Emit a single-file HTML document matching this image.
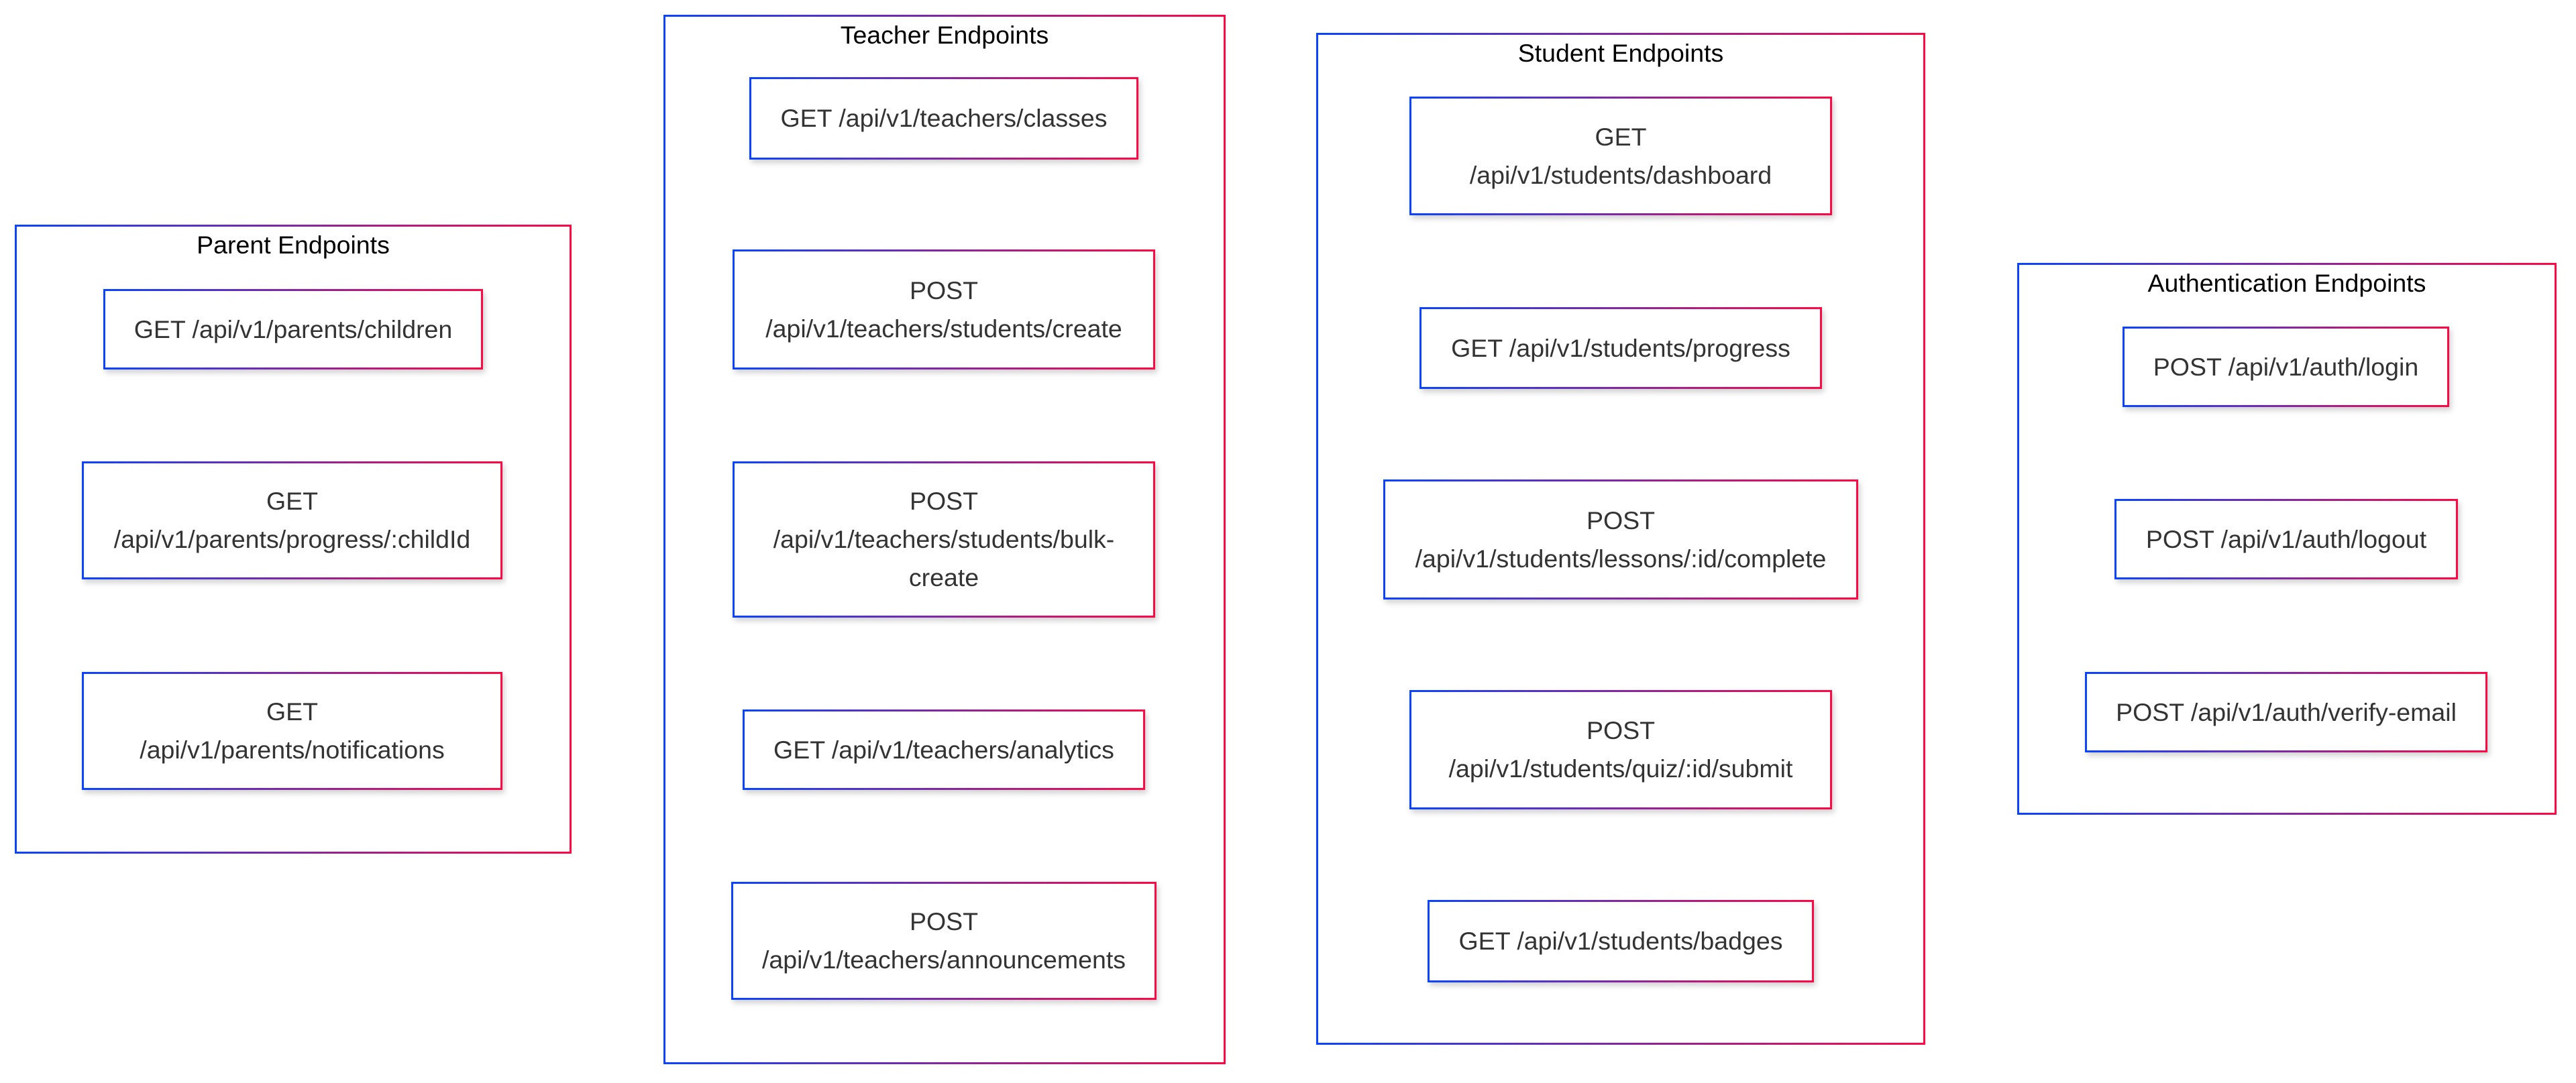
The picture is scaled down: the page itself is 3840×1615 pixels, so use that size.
<!DOCTYPE html>
<html><head><meta charset="utf-8"><style>
body{margin:0;width:3840px;height:1615px;background:#fff;position:relative;overflow:hidden;font-family:"Liberation Sans",Arial,sans-serif}
.g{position:absolute;box-sizing:border-box;border:3px solid;border-image:linear-gradient(to right,#0a44ff,#ff0844) 1;}
.c .t{position:absolute;left:0;right:0;top:6px;text-align:center;font-size:37.5px;color:#000}
.n{display:flex;align-items:center;justify-content:center;text-align:center;font-size:37.5px;line-height:57px;color:#333;box-shadow:3px 5px 8px rgba(0,0,0,.18);background:#fff;padding:0 14px}
</style></head><body>
<div class="g c" style="left:22px;top:335px;width:830px;height:938px"><div class="t">Parent Endpoints</div></div>
<div class="g n" style="left:154px;top:431px;width:566px;height:120px">GET /api/v1/parents/children</div>
<div class="g n" style="left:122px;top:688px;width:627px;height:176px">GET<br>/api/v1/parents/progress/:childId</div>
<div class="g n" style="left:122px;top:1002px;width:627px;height:176px">GET<br>/api/v1/parents/notifications</div>

<div class="g c" style="left:989px;top:22px;width:838px;height:1565px"><div class="t">Teacher Endpoints</div></div>
<div class="g n" style="left:1117px;top:115px;width:580px;height:123px">GET /api/v1/teachers/classes</div>
<div class="g n" style="left:1092px;top:372px;width:630px;height:179px">POST<br>/api/v1/teachers/students/create</div>
<div class="g n" style="left:1092px;top:688px;width:630px;height:233px">POST<br>/api/v1/teachers/students/bulk-<br>create</div>
<div class="g n" style="left:1107px;top:1058px;width:600px;height:120px">GET /api/v1/teachers/analytics</div>
<div class="g n" style="left:1090px;top:1315px;width:634px;height:176px">POST<br>/api/v1/teachers/announcements</div>

<div class="g c" style="left:1962px;top:49px;width:908px;height:1509px"><div class="t">Student Endpoints</div></div>
<div class="g n" style="left:2101px;top:144px;width:630px;height:177px">GET<br>/api/v1/students/dashboard</div>
<div class="g n" style="left:2116px;top:458px;width:600px;height:122px">GET /api/v1/students/progress</div>
<div class="g n" style="left:2062px;top:715px;width:708px;height:179px">POST<br>/api/v1/students/lessons/:id/complete</div>
<div class="g n" style="left:2101px;top:1029px;width:630px;height:178px">POST<br>/api/v1/students/quiz/:id/submit</div>
<div class="g n" style="left:2128px;top:1342px;width:576px;height:123px">GET /api/v1/students/badges</div>

<div class="g c" style="left:3007px;top:392px;width:804px;height:823px"><div class="t">Authentication Endpoints</div></div>
<div class="g n" style="left:3164px;top:487px;width:487px;height:120px">POST /api/v1/auth/login</div>
<div class="g n" style="left:3152px;top:744px;width:512px;height:120px">POST /api/v1/auth/logout</div>
<div class="g n" style="left:3108px;top:1002px;width:600px;height:120px">POST /api/v1/auth/verify-email</div>
</body></html>
